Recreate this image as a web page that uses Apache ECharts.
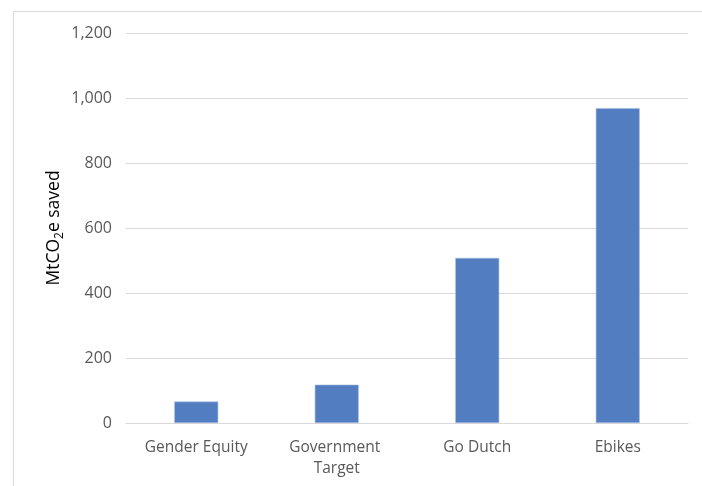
<!DOCTYPE html>
<html>
<head>
<meta charset="utf-8">
<script src="https://cdn.jsdelivr.net/npm/echarts@6/dist/echarts.min.js"></script>
<style>
html,body{margin:0;padding:0;background:#fff;}
#c{width:702px;height:486px;}
</style>
</head>
<body>
<div id="c"></div>
<script>
var categories = ['Gender Equity', 'Government Target', 'Go Dutch', 'Ebikes'];
var values = [66, 118, 508, 969];
var yTicks = { min: 0, max: 1200, interval: 200 };

var chart = echarts.init(document.getElementById('c'), null, { renderer: 'canvas' });
var font = "'Open Sans', 'Noto Sans', sans-serif";
chart.setOption({
  animation: false,
  backgroundColor: '#fff',
  graphic: [
    { type: 'line', shape: { x1: 13.5, y1: 11.5, x2: 702, y2: 11.5 }, style: { stroke: '#d9d9d9', lineWidth: 1 } },
    { type: 'line', shape: { x1: 13.5, y1: 11.5, x2: 13.5, y2: 486 }, style: { stroke: '#d9d9d9', lineWidth: 1 } }
  ],
  grid: { left: 126, right: 14, top: 33, bottom: 63, containLabel: false },
  xAxis: {
    type: 'category',
    data: categories,
    axisLine: { lineStyle: { color: '#d9d9d9', width: 1 } },
    axisTick: { show: false },
    axisLabel: {
      color: '#595959', fontSize: 15.5, fontFamily: font, margin: 14,
      interval: 0, width: 118, overflow: 'break', lineHeight: 21
    }
  },
  yAxis: {
    type: 'value',
    min: yTicks.min, max: yTicks.max, interval: yTicks.interval,
    name: '{a|MtCO}{s|2}{a|e saved}',
    nameLocation: 'middle',
    nameGap: 60,
    nameMoveOverlap: false,
    nameRotate: 90,
    nameTextStyle: {
      rich: {
        a: { fontSize: 17.5, color: '#000', fontFamily: font, lineHeight: 24 },
        s: { fontSize: 12, color: '#000', fontFamily: font, lineHeight: 14, verticalAlign: 'bottom' }
      }
    },
    axisLine: { show: false },
    axisTick: { show: false },
    axisLabel: {
      color: '#595959', fontSize: 16, fontFamily: font, margin: 14,
      formatter: function (v) { return v.toLocaleString('en-US'); }
    },
    splitLine: { lineStyle: { color: '#d9d9d9', width: 1 } }
  },
  series: [{
    type: 'bar',
    data: values,
    barWidth: 44,
    itemStyle: { color: '#527dc0', borderColor: '#a9bfe2', borderWidth: 0.6 }
  }]
});
</script>
</body>
</html>
